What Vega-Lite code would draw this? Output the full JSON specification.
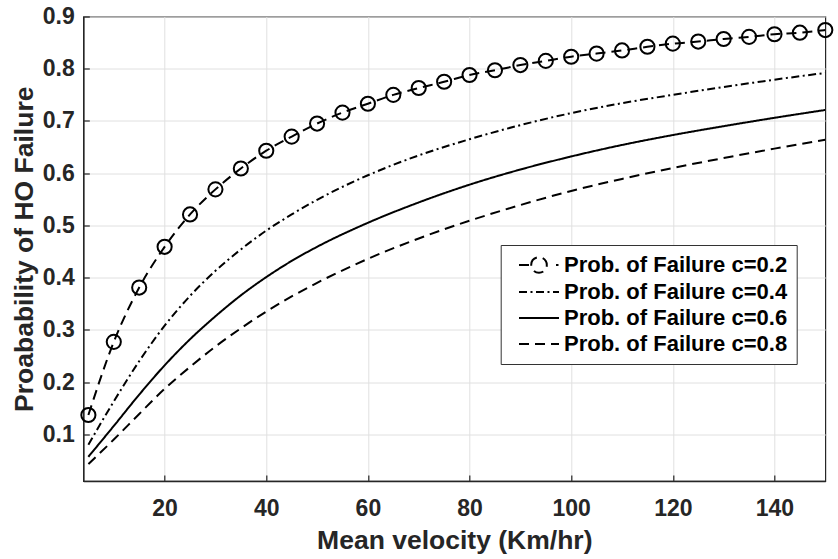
{
  "$schema": "https://vega.github.io/schema/vega-lite/v6.json",
  "width": 742,
  "height": 464.5,
  "autosize": {"type": "none"},
  "padding": {"left": 83.3, "top": 16.5, "right": 12.7, "bottom": 78},
  "background": "white",
  "config": {
    "font": "Liberation Sans",
    "view": {"stroke": "#262626", "strokeWidth": 1.2},
    "axis": {
      "labelFont": "Liberation Sans",
      "labelFontWeight": "bold",
      "labelFontSize": 23,
      "labelColor": "#262626",
      "titleFont": "Liberation Sans",
      "titleFontWeight": "bold",
      "titleFontSize": 26.5,
      "titleColor": "#262626",
      "domainColor": "#262626",
      "domainWidth": 1.5,
      "gridColor": "#e0e0e0",
      "gridWidth": 1,
      "tickColor": "#262626",
      "tickWidth": 1.2,
      "tickSize": -6
    }
  },
  "data": {
    "values": [
      {"series": "Prob. of Failure c=0.2", "v": 5, "p": 0.137},
      {"series": "Prob. of Failure c=0.2", "v": 10, "p": 0.277},
      {"series": "Prob. of Failure c=0.2", "v": 15, "p": 0.381},
      {"series": "Prob. of Failure c=0.2", "v": 20, "p": 0.459},
      {"series": "Prob. of Failure c=0.2", "v": 25, "p": 0.521},
      {"series": "Prob. of Failure c=0.2", "v": 30, "p": 0.569},
      {"series": "Prob. of Failure c=0.2", "v": 35, "p": 0.609},
      {"series": "Prob. of Failure c=0.2", "v": 40, "p": 0.643},
      {"series": "Prob. of Failure c=0.2", "v": 45, "p": 0.670},
      {"series": "Prob. of Failure c=0.2", "v": 50, "p": 0.695},
      {"series": "Prob. of Failure c=0.2", "v": 55, "p": 0.716},
      {"series": "Prob. of Failure c=0.2", "v": 60, "p": 0.733},
      {"series": "Prob. of Failure c=0.2", "v": 65, "p": 0.750},
      {"series": "Prob. of Failure c=0.2", "v": 70, "p": 0.763},
      {"series": "Prob. of Failure c=0.2", "v": 75, "p": 0.775},
      {"series": "Prob. of Failure c=0.2", "v": 80, "p": 0.788},
      {"series": "Prob. of Failure c=0.2", "v": 85, "p": 0.797},
      {"series": "Prob. of Failure c=0.2", "v": 90, "p": 0.807},
      {"series": "Prob. of Failure c=0.2", "v": 95, "p": 0.815},
      {"series": "Prob. of Failure c=0.2", "v": 100, "p": 0.823},
      {"series": "Prob. of Failure c=0.2", "v": 105, "p": 0.829},
      {"series": "Prob. of Failure c=0.2", "v": 110, "p": 0.835},
      {"series": "Prob. of Failure c=0.2", "v": 115, "p": 0.842},
      {"series": "Prob. of Failure c=0.2", "v": 120, "p": 0.848},
      {"series": "Prob. of Failure c=0.2", "v": 125, "p": 0.852},
      {"series": "Prob. of Failure c=0.2", "v": 130, "p": 0.857},
      {"series": "Prob. of Failure c=0.2", "v": 135, "p": 0.861},
      {"series": "Prob. of Failure c=0.2", "v": 140, "p": 0.866},
      {"series": "Prob. of Failure c=0.2", "v": 145, "p": 0.869},
      {"series": "Prob. of Failure c=0.2", "v": 150, "p": 0.874},

      {"series": "Prob. of Failure c=0.4", "v": 5, "p": 0.080},
      {"series": "Prob. of Failure c=0.4", "v": 10, "p": 0.163},
      {"series": "Prob. of Failure c=0.4", "v": 15, "p": 0.240},
      {"series": "Prob. of Failure c=0.4", "v": 20, "p": 0.308},
      {"series": "Prob. of Failure c=0.4", "v": 25, "p": 0.365},
      {"series": "Prob. of Failure c=0.4", "v": 30, "p": 0.413},
      {"series": "Prob. of Failure c=0.4", "v": 35, "p": 0.454},
      {"series": "Prob. of Failure c=0.4", "v": 40, "p": 0.490},
      {"series": "Prob. of Failure c=0.4", "v": 45, "p": 0.521},
      {"series": "Prob. of Failure c=0.4", "v": 50, "p": 0.549},
      {"series": "Prob. of Failure c=0.4", "v": 60, "p": 0.596},
      {"series": "Prob. of Failure c=0.4", "v": 70, "p": 0.634},
      {"series": "Prob. of Failure c=0.4", "v": 80, "p": 0.665},
      {"series": "Prob. of Failure c=0.4", "v": 90, "p": 0.692},
      {"series": "Prob. of Failure c=0.4", "v": 100, "p": 0.715},
      {"series": "Prob. of Failure c=0.4", "v": 110, "p": 0.734},
      {"series": "Prob. of Failure c=0.4", "v": 120, "p": 0.750},
      {"series": "Prob. of Failure c=0.4", "v": 130, "p": 0.765},
      {"series": "Prob. of Failure c=0.4", "v": 140, "p": 0.779},
      {"series": "Prob. of Failure c=0.4", "v": 150, "p": 0.792},

      {"series": "Prob. of Failure c=0.6", "v": 5, "p": 0.057},
      {"series": "Prob. of Failure c=0.6", "v": 10, "p": 0.116},
      {"series": "Prob. of Failure c=0.6", "v": 15, "p": 0.176},
      {"series": "Prob. of Failure c=0.6", "v": 20, "p": 0.232},
      {"series": "Prob. of Failure c=0.6", "v": 25, "p": 0.282},
      {"series": "Prob. of Failure c=0.6", "v": 30, "p": 0.326},
      {"series": "Prob. of Failure c=0.6", "v": 35, "p": 0.366},
      {"series": "Prob. of Failure c=0.6", "v": 40, "p": 0.401},
      {"series": "Prob. of Failure c=0.6", "v": 45, "p": 0.432},
      {"series": "Prob. of Failure c=0.6", "v": 50, "p": 0.459},
      {"series": "Prob. of Failure c=0.6", "v": 60, "p": 0.505},
      {"series": "Prob. of Failure c=0.6", "v": 70, "p": 0.544},
      {"series": "Prob. of Failure c=0.6", "v": 80, "p": 0.578},
      {"series": "Prob. of Failure c=0.6", "v": 90, "p": 0.607},
      {"series": "Prob. of Failure c=0.6", "v": 100, "p": 0.632},
      {"series": "Prob. of Failure c=0.6", "v": 110, "p": 0.654},
      {"series": "Prob. of Failure c=0.6", "v": 120, "p": 0.673},
      {"series": "Prob. of Failure c=0.6", "v": 130, "p": 0.690},
      {"series": "Prob. of Failure c=0.6", "v": 140, "p": 0.706},
      {"series": "Prob. of Failure c=0.6", "v": 150, "p": 0.721},

      {"series": "Prob. of Failure c=0.8", "v": 5, "p": 0.043},
      {"series": "Prob. of Failure c=0.8", "v": 10, "p": 0.090},
      {"series": "Prob. of Failure c=0.8", "v": 15, "p": 0.139},
      {"series": "Prob. of Failure c=0.8", "v": 20, "p": 0.187},
      {"series": "Prob. of Failure c=0.8", "v": 25, "p": 0.229},
      {"series": "Prob. of Failure c=0.8", "v": 30, "p": 0.268},
      {"series": "Prob. of Failure c=0.8", "v": 35, "p": 0.303},
      {"series": "Prob. of Failure c=0.8", "v": 40, "p": 0.335},
      {"series": "Prob. of Failure c=0.8", "v": 45, "p": 0.364},
      {"series": "Prob. of Failure c=0.8", "v": 50, "p": 0.390},
      {"series": "Prob. of Failure c=0.8", "v": 60, "p": 0.436},
      {"series": "Prob. of Failure c=0.8", "v": 70, "p": 0.475},
      {"series": "Prob. of Failure c=0.8", "v": 80, "p": 0.509},
      {"series": "Prob. of Failure c=0.8", "v": 90, "p": 0.539},
      {"series": "Prob. of Failure c=0.8", "v": 100, "p": 0.566},
      {"series": "Prob. of Failure c=0.8", "v": 110, "p": 0.589},
      {"series": "Prob. of Failure c=0.8", "v": 120, "p": 0.610},
      {"series": "Prob. of Failure c=0.8", "v": 130, "p": 0.629},
      {"series": "Prob. of Failure c=0.8", "v": 140, "p": 0.647},
      {"series": "Prob. of Failure c=0.8", "v": 150, "p": 0.664}
    ]
  },
  "encoding": {
    "x": {
      "field": "v",
      "type": "quantitative",
      "scale": {"domain": [4, 150], "nice": false, "zero": false},
      "axis": {
        "values": [20, 40, 60, 80, 100, 120, 140],
        "format": "d",
        "labelPadding": 22,
        "title": "Mean velocity (Km/hr)",
        "titlePadding": 7
      }
    },
    "y": {
      "field": "p",
      "type": "quantitative",
      "scale": {"domain": [0.0106, 0.9], "nice": false, "zero": false},
      "axis": {
        "values": [0.1, 0.2, 0.3, 0.4, 0.5, 0.6, 0.7, 0.8, 0.9],
        "format": ".1f",
        "labelPadding": 15,
        "title": "Proabability of HO Failure",
        "titlePadding": 4
      }
    }
  },
  "layer": [
    {
      "mark": {"type": "line", "color": "black", "strokeWidth": 2, "interpolate": "monotone", "clip": true},
      "encoding": {
        "detail": {"field": "series"},
        "strokeDash": {
          "field": "series",
          "type": "nominal",
          "scale": {
            "domain": ["Prob. of Failure c=0.2", "Prob. of Failure c=0.4", "Prob. of Failure c=0.6", "Prob. of Failure c=0.8"],
            "range": [[10, 6], [8, 3.5, 2, 3.5], [1, 0], [10, 6]]
          },
          "legend": {
            "title": null,
            "orient": "none",
            "legendX": 417.4,
            "legendY": 228.5,
            "fillColor": "white",
            "strokeColor": "#333333",
            "padding": 9,
            "symbolOffset": 8.3,
            "symbolSize": 400,
            "symbolStrokeColor": "black",
            "symbolStrokeWidth": 2,
            "symbolFillColor": "transparent",
            "labelFont": "Liberation Sans",
            "labelFontWeight": "bold",
            "labelFontSize": 22,
            "labelColor": "black",
            "labelOffset": 24,
            "labelLimit": 400,
            "rowPadding": 4,
            "encode": {
              "symbols": {
                "update": {
                  "shape": {"signal": "datum.value === 'Prob. of Failure c=0.2' ? 'M-1,0H0M0.22,0A0.78,0.78 0 1,1 1.78,0A0.78,0.78 0 1,1 0.22,0M2.7,0H2.95' : 'M-1,0H3'"},
                  "strokeDash": {"signal": "datum.value === 'Prob. of Failure c=0.2' ? [1,0] : datum.value === 'Prob. of Failure c=0.4' ? [6,2.5,1.5,2.5] : datum.value === 'Prob. of Failure c=0.6' ? [1,0] : [7,6]"},
                  "fill": {"value": "transparent"},
                  "stroke": {"value": "black"}
                }
              }
            }
          }
        }
      }
    },
    {
      "transform": [{"filter": "datum.series === 'Prob. of Failure c=0.2'"}],
      "mark": {"type": "point", "shape": "circle", "filled": false, "color": "black", "strokeWidth": 2, "size": 200, "opacity": 1}
    }
  ]
}
